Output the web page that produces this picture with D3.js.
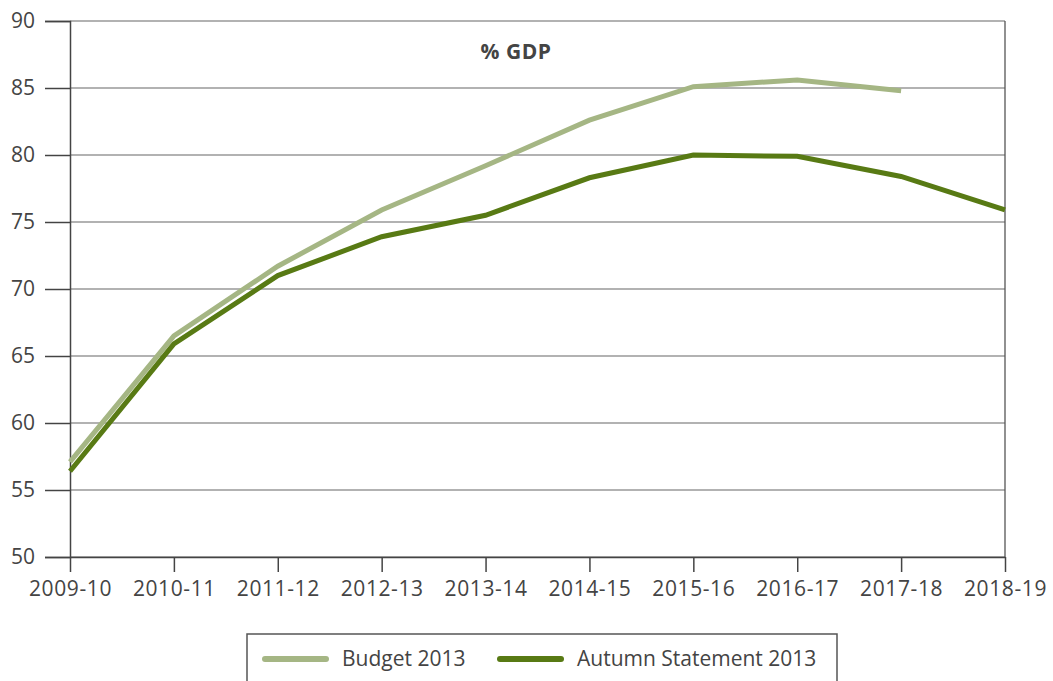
<!DOCTYPE html>
<html>
<head>
<meta charset="utf-8">
<script src="https://cdn.jsdelivr.net/npm/d3@7"></script>
<style>
body { margin: 0; background: #fff; }
text { font-family: "Open Sans", "Noto Sans", sans-serif; fill: #444; }
</style>
</head>
<body>
<div id="chart"></div>
<script>
var years = ["2009-10", "2010-11", "2011-12", "2012-13", "2013-14", "2014-15", "2015-16", "2016-17", "2017-18", "2018-19"];
var budget2013 = [57.1, 66.5, 71.7, 75.9, 79.2, 82.6, 85.1, 85.6, 84.8, null];
var autumn2013 = [56.4, 65.9, 71.0, 73.9, 75.5, 78.3, 80.0, 79.9, 78.4, 75.9];
var yTicks = [50, 55, 60, 65, 70, 75, 80, 85, 90];

var margin = {top: 21, right: 48, bottom: 124, left: 70},
    width = 1053 - margin.left - margin.right,
    height = 681 - margin.top - margin.bottom;

var svg = d3.select("#chart").append("svg")
    .attr("width", 1053)
    .attr("height", 681);

var g = svg.append("g")
    .attr("transform", "translate(" + margin.left + "," + margin.top + ")");

var x = d3.scalePoint().domain(years).range([0, width]);
var y = d3.scaleLinear().domain([50, 90]).range([height, 0]);

// gridlines
g.selectAll(".grid")
    .data(yTicks)
    .enter().append("line")
    .attr("x1", 0).attr("x2", width)
    .attr("y1", function(d) { return y(d); })
    .attr("y2", function(d) { return y(d); })
    .attr("stroke", "#999").attr("stroke-width", 1.3);

// right border
g.append("line")
    .attr("x1", width).attr("x2", width)
    .attr("y1", 0).attr("y2", height)
    .attr("stroke", "#555").attr("stroke-width", 1.3);

// y axis
var yAxis = g.append("g")
    .call(d3.axisLeft(y).tickValues(yTicks).tickSize(25).tickPadding(10));
yAxis.select(".domain").attr("stroke", "#444").attr("stroke-width", 1.5);
yAxis.selectAll(".tick line").attr("stroke", "#444").attr("stroke-width", 1.5);
yAxis.selectAll("text").style("font-size", "21px").attr("fill", "#444").attr("dy", "0.3em");

// x axis
var xAxis = g.append("g")
    .attr("transform", "translate(0," + height + ")")
    .call(d3.axisBottom(x).tickSize(15).tickPadding(9).tickSizeOuter(0));
xAxis.select(".domain").attr("stroke", "#444").attr("stroke-width", 1.5);
xAxis.selectAll(".tick line").attr("stroke", "#444").attr("stroke-width", 1.5);
xAxis.selectAll("text").style("font-size", "21px").style("letter-spacing", "0.6px").attr("fill", "#444");

var line = d3.line()
    .defined(function(d) { return d != null; })
    .x(function(d, i) { return x(years[i]); })
    .y(function(d) { return y(d); });

g.append("path")
    .datum(budget2013)
    .attr("fill", "none")
    .attr("stroke", "#a5b684")
    .attr("stroke-width", 5)
    .attr("d", line);

g.append("path")
    .datum(autumn2013)
    .attr("fill", "none")
    .attr("stroke", "#587a14")
    .attr("stroke-width", 5)
    .attr("d", line);

// title
svg.append("text")
    .attr("x", 516).attr("y", 59)
    .attr("text-anchor", "middle")
    .style("font-size", "21px")
    .style("font-weight", "bold")
    .style("letter-spacing", "0.5px")
    .attr("fill", "#333")
    .text("% GDP");

// legend
var legend = svg.append("g");
legend.append("rect")
    .attr("x", 247).attr("y", 634)
    .attr("width", 590).attr("height", 60)
    .attr("fill", "#fff").attr("stroke", "#555").attr("stroke-width", 1.5);

var items = [
    {name: "Budget 2013", color: "#a5b684", x: 265},
    {name: "Autumn Statement 2013", color: "#587a14", x: 500}
];
items.forEach(function(d) {
    legend.append("line")
        .attr("x1", d.x).attr("x2", d.x + 61)
        .attr("y1", 659).attr("y2", 659)
        .attr("stroke", d.color).attr("stroke-width", 6)
        .attr("stroke-linecap", "round");
    legend.append("text")
        .attr("x", d.x + 77).attr("y", 666)
        .style("font-size", "21px")
        .attr("fill", "#444")
        .text(d.name);
});
</script>
</body>
</html>
